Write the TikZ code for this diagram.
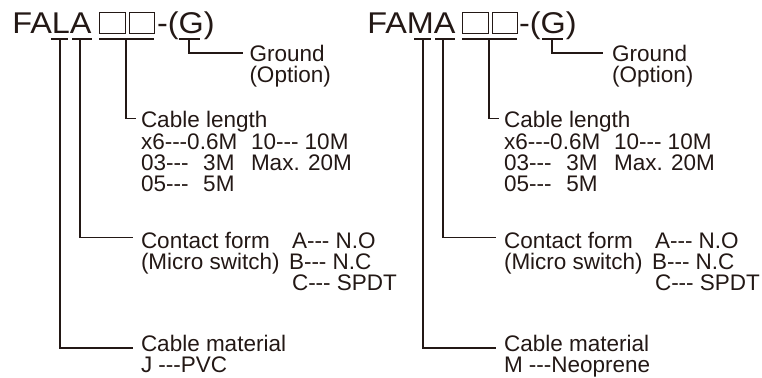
\documentclass[tikz,border=0pt]{standalone}
\usepackage{fontspec}
\newfontfamily\bodyfont{Liberation Sans}
\newfontfamily\titlefont{Liberation Sans}[FakeStretch=1.08]
\definecolor{ink}{RGB}{35,24,21}
\begin{document}
\begin{tikzpicture}[x=1pt,y=-1pt,
  lbl/.style={anchor=base west,inner sep=0pt,outer sep=0pt,text=ink,
    font=\bodyfont\fontsize{22.5}{22}\selectfont},
  lblr/.style={lbl,anchor=base east},
  ttl/.style={inner sep=0pt,outer sep=0pt,text=ink,
    font=\titlefont\fontsize{30}{30}\selectfont},
  conn/.style={draw=ink,line width=1.1pt},
  ubar/.style={draw=ink,line width=1.1pt},
  sqbox/.style={draw=ink,line width=1pt}]
\useasboundingbox (0,0) rectangle (762,377);

% ---------------- left group ----------------
\node[ttl,anchor=base east] (LtA) at (91.5,33.5) {FALA};
\coordinate (Lb1a) at (99,12.5);  \coordinate (Lb1b) at (125,33.5);
\coordinate (Lb2a) at (129,12.5); \coordinate (Lb2b) at (154,33.5);
\draw[sqbox] (Lb1a) rectangle (Lb1b);
\draw[sqbox] (Lb2a) rectangle (Lb2b);
\node[ttl,anchor=base west] (LtG) at (157,33.5) {-(G)};

\coordinate (Lu1a) at (51,39);  \coordinate (Lu1b) at (68,39);
\coordinate (Lu2a) at (72,39);  \coordinate (Lu2b) at (92,39);
\coordinate (Lu3a) at (99,39);  \coordinate (Lu3b) at (154,39);
\coordinate (Lu4a) at (179,39); \coordinate (Lu4b) at (200,39);
\draw[ubar] (Lu1a) -- (Lu1b);
\draw[ubar] (Lu2a) -- (Lu2b);
\draw[ubar] (Lu3a) -- (Lu3b);
\draw[ubar] (Lu4a) -- (Lu4b);

\coordinate (Lv1) at (60,39);  \coordinate (Le1) at (133,348);
\coordinate (Lv2) at (80,39);  \coordinate (Le2) at (133,237.5);
\coordinate (Lv3) at (126,39); \coordinate (Le3) at (136,118.5);
\coordinate (Lv4) at (189,39); \coordinate (Le4) at (243,53);
\draw[conn] (Lv1) |- (Le1);
\draw[conn] (Lv2) |- (Le2);
\draw[conn] (Lv3) |- (Le3);
\draw[conn] (Lv4) |- (Le4);

\node[lbl] (Lg1) at (249.5,61.5) {Ground};
\node[lbl] (Lg2) at (249.5,82.5) {(Option)};

\node[lbl] (Lc0) at (141,128) {Cable length};
\node[lbl] (Lc1) at (141,149) {x6---0.6M};
\node[lbl] (Lc1b) at (251,149) {10--- 10M};
\node[lbl] (Lc2) at (141,170) {03---};
\node[lblr] (Lc2m) at (234.5,170) {3M};
\node[lbl] (Lc2b) at (251,170) {Max. 20M};
\node[lbl] (Lc3) at (141,191) {05---};
\node[lblr] (Lc3m) at (234.5,191) {5M};

\node[lbl] (Lk1) at (141,248) {Contact form};
\node[lbl] (Lk1b) at (292,248) {A--- N.O};
\node[lbl] (Lk2) at (141,269) {(Micro switch)};
\node[lbl] (Lk2b) at (289,269) {B--- N.C};
\node[lbl] (Lk3b) at (292,290) {C--- SPDT};

\node[lbl] (Lm1) at (141,351.5) {Cable material};
\node[lbl] (Lm2) at (141,372) {J ---PVC};

% ---------------- right group ----------------
\begin{scope}[xshift=363pt]
\node[ttl,anchor=base east] (RtA) at (92.5,33.5) {FAMA};
\coordinate (Rb1a) at (99,12.5);  \coordinate (Rb1b) at (125,33.5);
\coordinate (Rb2a) at (129,12.5); \coordinate (Rb2b) at (154,33.5);
\draw[sqbox] (Rb1a) rectangle (Rb1b);
\draw[sqbox] (Rb2a) rectangle (Rb2b);
\node[ttl,anchor=base west] (RtG) at (156,33.5) {-(G)};

\coordinate (Ru1a) at (51,39);  \coordinate (Ru1b) at (68,39);
\coordinate (Ru2a) at (72,39);  \coordinate (Ru2b) at (92,39);
\coordinate (Ru3a) at (99,39);  \coordinate (Ru3b) at (154,39);
\coordinate (Ru4a) at (179,39); \coordinate (Ru4b) at (200,39);
\draw[ubar] (Ru1a) -- (Ru1b);
\draw[ubar] (Ru2a) -- (Ru2b);
\draw[ubar] (Ru3a) -- (Ru3b);
\draw[ubar] (Ru4a) -- (Ru4b);

\coordinate (Rv1) at (60,39);  \coordinate (Re1) at (133,348);
\coordinate (Rv2) at (80,39);  \coordinate (Re2) at (133,237.5);
\coordinate (Rv3) at (126,39); \coordinate (Re3) at (136,118.5);
\coordinate (Rv4) at (189,39); \coordinate (Re4) at (240,53);
\draw[conn] (Rv1) |- (Re1);
\draw[conn] (Rv2) |- (Re2);
\draw[conn] (Rv3) |- (Re3);
\draw[conn] (Rv4) |- (Re4);

\node[lbl] (Rg1) at (249,61.5) {Ground};
\node[lbl] (Rg2) at (249,82.5) {(Option)};

\node[lbl] (Rc0) at (141,128) {Cable length};
\node[lbl] (Rc1) at (141,149) {x6---0.6M};
\node[lbl] (Rc1b) at (251,149) {10--- 10M};
\node[lbl] (Rc2) at (141,170) {03---};
\node[lblr] (Rc2m) at (234.5,170) {3M};
\node[lbl] (Rc2b) at (251,170) {Max. 20M};
\node[lbl] (Rc3) at (141,191) {05---};
\node[lblr] (Rc3m) at (234.5,191) {5M};

\node[lbl] (Rk1) at (141,248) {Contact form};
\node[lbl] (Rk1b) at (292,248) {A--- N.O};
\node[lbl] (Rk2) at (141,269) {(Micro switch)};
\node[lbl] (Rk2b) at (289,269) {B--- N.C};
\node[lbl] (Rk3b) at (292,290) {C--- SPDT};

\node[lbl] (Rm1) at (141,351.5) {Cable material};
\node[lbl] (Rm2) at (141,372) {M ---Neoprene};
\end{scope}
\end{tikzpicture}
\end{document}
